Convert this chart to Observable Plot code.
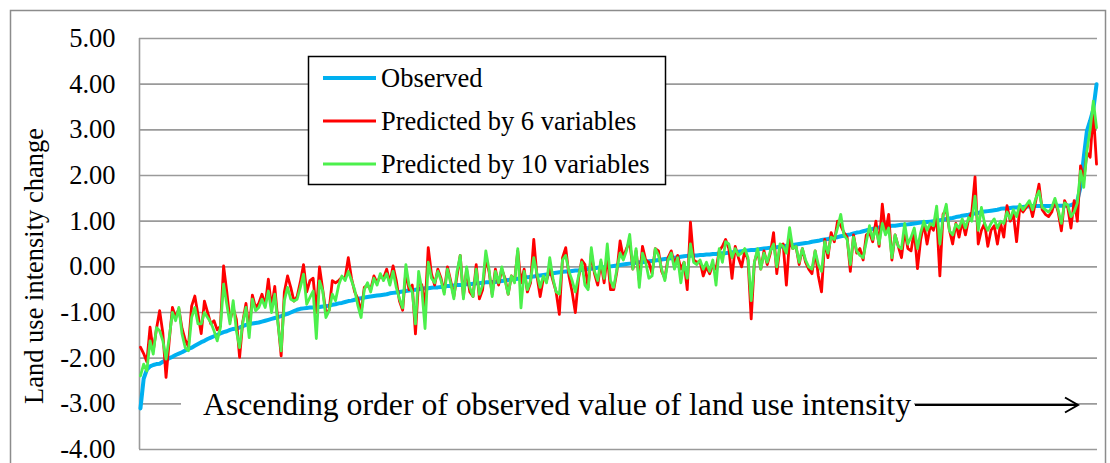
<!DOCTYPE html>
<html>
<head>
<meta charset="utf-8">
<script src="https://cdn.jsdelivr.net/npm/d3@7"></script>
<script src="https://cdn.jsdelivr.net/npm/@observablehq/plot@0.6"></script>
<style>
  html, body { margin: 0; padding: 0; background: #fff; }
  #chart svg { display: block; }
</style>
</head>
<body>
<div id="chart"></div>
<script>
// Land use intensity change: observed values sorted ascending, with the two model predictions
const observed = [
  -3.10,-2.45,-2.25,-2.18,-2.15,-2.13,-2.12,-2.08,-2.04,-2.00,-1.97,-1.93,-1.90,-1.87,-1.83,-1.80,-1.77,-1.73,-1.69,-1.65,
  -1.62,-1.58,-1.55,-1.52,-1.49,-1.46,-1.43,-1.41,-1.38,-1.36,-1.35,-1.33,-1.30,-1.27,-1.25,-1.24,-1.23,-1.22,-1.20,-1.18,
  -1.16,-1.14,-1.12,-1.10,-1.08,-1.05,-1.03,-1.00,-0.97,-0.94,-0.92,-0.91,-0.90,-0.89,-0.89,-0.88,-0.88,-0.87,-0.86,-0.85,
  -0.83,-0.82,-0.80,-0.79,-0.77,-0.75,-0.74,-0.72,-0.70,-0.69,-0.67,-0.66,-0.65,-0.64,-0.63,-0.62,-0.61,-0.60,-0.58,-0.57,
  -0.56,-0.55,-0.54,-0.53,-0.52,-0.51,-0.50,-0.49,-0.48,-0.47,-0.47,-0.46,-0.45,-0.45,-0.44,-0.43,-0.42,-0.42,-0.41,-0.40,
  -0.40,-0.39,-0.38,-0.38,-0.37,-0.36,-0.36,-0.35,-0.34,-0.34,-0.33,-0.33,-0.32,-0.31,-0.30,-0.29,-0.28,-0.27,-0.26,-0.25,
  -0.24,-0.23,-0.22,-0.21,-0.20,-0.19,-0.18,-0.17,-0.16,-0.14,-0.13,-0.12,-0.11,-0.10,-0.10,-0.09,-0.08,-0.08,-0.07,-0.06,
  -0.05,-0.04,-0.03,-0.02,-0.01,-0.01,0.00,0.01,0.02,0.03,0.04,0.05,0.06,0.07,0.08,0.09,0.10,0.10,0.11,0.12,
  0.13,0.14,0.15,0.16,0.17,0.18,0.19,0.20,0.21,0.22,0.23,0.24,0.24,0.25,0.25,0.26,0.26,0.27,0.27,0.28,
  0.28,0.29,0.30,0.30,0.31,0.32,0.32,0.33,0.34,0.35,0.36,0.37,0.37,0.38,0.39,0.40,0.41,0.42,0.42,0.43,
  0.44,0.45,0.46,0.47,0.48,0.49,0.50,0.51,0.52,0.53,0.55,0.56,0.57,0.59,0.60,0.61,0.63,0.64,0.65,0.67,
  0.68,0.70,0.71,0.73,0.75,0.76,0.78,0.80,0.81,0.83,0.85,0.86,0.87,0.88,0.89,0.90,0.90,0.91,0.92,0.92,
  0.93,0.94,0.95,0.96,0.97,0.98,0.98,0.99,1.00,1.01,1.02,1.03,1.05,1.06,1.07,1.09,1.10,1.12,1.13,1.14,
  1.16,1.17,1.18,1.20,1.21,1.22,1.23,1.24,1.25,1.27,1.28,1.28,1.29,1.30,1.30,1.31,1.31,1.32,1.32,1.33,
  1.33,1.33,1.33,1.33,1.33,1.33,1.33,1.34,1.34,1.34,1.34,1.35,1.38,1.45,1.75,2.40,2.98,3.20,3.45,4.00
];

const predicted6 = [
  -1.76,-1.90,-2.08,-1.32,-1.84,-1.36,-0.96,-1.45,-2.42,-1.62,-0.89,-1.11,-0.92,-1.35,-1.60,-1.75,-0.86,-0.64,-1.05,-1.46,
  -0.75,-1.00,-1.25,-1.18,-1.38,-1.30,0.02,-0.55,-1.18,-0.90,-1.15,-1.98,-1.20,-0.80,-1.40,-0.62,-0.90,-0.80,-0.60,-0.85,
  -0.27,-0.90,-0.43,-1.20,-1.95,-0.55,-0.20,-0.45,-0.75,-0.65,-0.33,0.05,-0.55,-0.30,-0.25,-1.00,0.00,-0.50,-1.00,-0.95,
  -0.30,-0.35,-0.30,-0.23,-0.25,0.20,-0.25,-0.55,-0.70,-1.00,-0.45,-0.40,-0.50,-0.20,-0.35,-0.20,-0.25,-0.05,-0.35,0.02,
  -0.30,-0.75,-0.95,-0.10,-0.50,-0.40,-1.47,-0.30,-0.40,-0.90,0.42,-0.15,-0.40,-0.05,-0.25,-0.55,0.00,-0.30,-0.65,-0.20,
  0.25,-0.65,-0.05,-0.55,-0.65,0.05,-0.70,-0.50,0.20,-0.10,-0.60,-0.05,-0.40,-0.05,-0.25,-0.60,-0.20,-0.30,0.35,-0.35,
  -0.05,-0.55,-0.35,0.60,-0.20,-0.65,-0.25,-0.30,-0.05,-0.30,-0.55,-1.04,0.20,0.42,-0.20,-0.55,-1.00,-0.25,0.15,0.05,
  -0.45,0.30,-0.15,-0.40,0.10,-0.35,0.25,-0.50,-0.50,-0.10,0.57,0.20,0.40,0.55,-0.05,0.35,-0.30,0.45,0.15,0.10,
  -0.15,0.40,0.35,-0.10,-0.25,0.20,0.35,0.05,0.25,-0.05,0.10,-0.50,0.98,0.15,0.10,0.12,-0.20,0.00,-0.15,0.05,
  -0.05,0.35,0.45,0.60,0.40,-0.25,0.45,0.20,0.00,0.35,0.15,-1.14,0.10,0.35,-0.05,0.35,0.05,0.30,0.75,-0.15,
  0.45,0.50,-0.40,0.60,0.40,0.45,0.05,0.40,0.10,-0.05,-0.15,0.35,-0.20,-0.55,0.60,0.20,0.75,0.55,1.00,0.90,
  0.75,0.65,-0.10,0.70,0.30,0.40,0.15,0.70,0.75,0.55,1.00,0.45,1.37,0.75,1.15,0.15,0.70,0.45,0.20,0.80,
  0.40,0.35,0.80,-0.04,0.60,0.95,0.50,0.90,0.80,1.10,-0.20,1.15,1.25,0.80,0.50,0.95,0.65,1.00,0.70,1.05,
  1.20,1.97,0.50,0.80,0.95,0.45,0.80,0.90,0.50,0.95,0.65,1.34,1.00,1.15,0.55,1.30,1.20,1.30,1.40,1.10,
  1.45,1.81,1.25,1.15,1.10,1.20,1.45,1.20,0.79,1.45,1.30,0.85,1.45,1.00,2.21,1.90,2.50,2.40,3.40,2.25
];

const predicted10 = [
  -2.39,-2.13,-2.28,-1.62,-1.91,-1.33,-1.40,-1.62,-2.02,-1.55,-1.00,-1.18,-0.89,-1.47,-1.77,-1.84,-1.11,-0.89,-1.25,-1.25,
  -1.00,-1.11,-1.22,-1.40,-1.62,-1.33,-0.38,-0.82,-1.25,-0.74,-1.40,-1.77,-1.22,-0.89,-1.55,-0.71,-0.96,-0.89,-0.71,-0.89,
  -0.53,-1.00,-0.60,-1.25,-1.84,-0.74,-0.45,-0.71,-0.75,-0.71,-0.45,-0.16,-0.82,-0.67,-0.53,-1.57,-0.31,-0.53,-1.11,-0.96,
  -0.60,-0.74,-0.40,-0.20,-0.30,-0.10,-0.30,-0.50,-0.85,-1.11,-0.50,-0.35,-0.55,-0.25,-0.40,-0.15,-0.30,-0.15,-0.40,-0.10,
  -0.45,-0.70,-0.90,0.05,-0.40,-0.55,-1.25,-0.10,-0.50,-1.35,0.10,-0.25,-0.35,-0.10,-0.30,-0.60,-0.05,-0.35,-0.70,-0.10,
  0.25,-0.70,0.00,-0.45,-0.65,-0.05,-0.60,-0.40,0.35,-0.05,-0.65,-0.10,-0.35,0.00,-0.30,-0.60,-0.20,-0.35,0.40,-0.90,
  -0.10,-0.50,-0.30,0.20,-0.15,-0.45,-0.20,-0.35,0.20,-0.25,-0.55,-0.60,0.15,0.25,-0.10,-0.30,-0.55,-0.20,0.10,-0.40,
  -0.50,0.42,-0.10,-0.30,0.15,-0.25,0.50,-0.30,-0.45,-0.05,0.30,0.15,0.35,0.71,-0.05,0.40,-0.45,0.30,0.10,-0.25,
  -0.20,0.40,0.25,-0.05,-0.30,0.15,0.30,-0.05,0.20,-0.35,0.10,-0.25,0.50,0.10,0.05,0.15,-0.05,0.10,-0.10,0.15,
  -0.40,0.40,0.10,0.55,0.50,0.20,0.40,0.25,0.30,0.40,0.20,-0.74,0.10,0.40,-0.05,0.30,0.10,0.35,0.50,0.00,
  0.50,0.45,0.30,0.86,0.40,0.45,0.10,0.40,0.15,0.00,-0.05,0.35,0.05,-0.10,0.55,0.30,0.65,0.60,0.85,1.15,
  0.70,0.60,0.05,0.65,0.35,0.25,0.20,0.55,0.90,0.60,0.85,0.50,0.95,0.70,0.85,0.20,0.70,0.45,0.40,0.95,
  0.50,0.65,0.85,0.40,0.75,1.00,0.80,0.95,0.90,1.33,0.50,1.10,1.37,0.79,0.70,0.93,0.85,1.05,0.85,1.08,
  1.00,1.55,0.80,1.30,0.95,0.80,0.95,1.05,0.85,1.00,0.95,1.20,1.05,1.25,1.10,1.37,1.25,1.35,1.45,1.25,
  1.50,1.66,1.30,1.25,1.20,1.30,1.50,1.25,0.95,1.40,1.35,1.10,1.20,1.40,2.10,1.74,2.54,3.00,3.63,3.05
];

const yTicks = [-4, -3, -2, -1, 0, 1, 2, 3, 4, 5];

const seriesNames = ["Observed", "Predicted by 6 variables", "Predicted by 10 variables"];
const seriesColors = ["#00b0f0", "#ff0000", "#4cf04c"];
const seriesWidths = [4, 2.8, 2.8];

const yTitle = "Land use intensity change";
const xNote = "Ascending order of observed value of land use intensity";

const rows = observed.map((v, i) => ({
  i,
  observed: v,
  p6: predicted6[i],
  p10: predicted10[i]
}));

const serif = "'Liberation Serif', 'Times New Roman', Times, serif";
const W = 1110, H = 463;
const n = observed.length;

const chart = Plot.plot({
  width: W,
  height: H,
  marginLeft: 139,
  marginRight: 13,
  marginTop: 38,
  marginBottom: 14,
  style: { fontSize: "26px", color: "#000", background: "#fff" },
  x: { domain: [-0.3, n - 0.7], axis: null },
  y: { domain: [-4, 5], axis: null },
  marks: [
    Plot.ruleY(yTicks, { stroke: "#9a9a9a", strokeWidth: 1.6 }),
    Plot.ruleX([-0.3], { stroke: "#9a9a9a", strokeWidth: 1.6 }),
    Plot.axisY(yTicks, {
      anchor: "left",
      tickSize: 0,
      tickPadding: 24,
      tickFormat: d => d.toFixed(2),
      label: null,
      fontSize: 26.5,
      fill: "#000"
    }),
    Plot.lineY(rows, { x: "i", y: "observed", stroke: seriesColors[0], strokeWidth: seriesWidths[0] }),
    Plot.lineY(rows, { x: "i", y: "p6", stroke: seriesColors[1], strokeWidth: seriesWidths[1] }),
    Plot.lineY(rows, { x: "i", y: "p10", stroke: seriesColors[2], strokeWidth: seriesWidths[2] })
  ]
});

document.getElementById("chart").appendChild(chart);

const svg = d3.select(chart);

// outer chart border
svg.append("rect")
  .attr("x", 10.5).attr("y", 10.5)
  .attr("width", 1095).attr("height", 480)
  .attr("fill", "none").attr("stroke", "#8c8c8c").attr("stroke-width", 1.5);

// vertical axis title
svg.append("text")
  .attr("transform", "translate(34,266) rotate(-90)")
  .attr("text-anchor", "middle")
  .attr("dominant-baseline", "central")
  .style("font-size", "26.5px").attr("fill", "#000")
  .text(yTitle);

// legend box
const lg = svg.append("g");
lg.append("rect")
  .attr("x", 308.5).attr("y", 56.5).attr("width", 357).attr("height", 128)
  .attr("fill", "#fff").attr("stroke", "#000").attr("stroke-width", 1.5);
seriesNames.forEach((name, k) => {
  const cy = 78 + k * 43;
  lg.append("line")
    .attr("x1", 323).attr("x2", 376).attr("y1", cy).attr("y2", cy)
    .attr("stroke", seriesColors[k]).attr("stroke-width", seriesWidths[k]);
  lg.append("text")
    .attr("x", 381).attr("y", cy + 9)
    .attr("text-anchor", "start")
    .style("font-size", "26.5px").attr("fill", "#000")
    .text(name);
});

// ordering note with arrow along the bottom of the plot
const nt = svg.append("g");
nt.append("rect")
  .attr("x", 181).attr("y", 388).attr("width", 733).attr("height", 34)
  .attr("fill", "#fff");
nt.append("text")
  .attr("x", 203).attr("y", 415)
  .attr("text-anchor", "start")
  .attr("textLength", 708).attr("lengthAdjust", "spacingAndGlyphs")
  .style("font-size", "32px").attr("fill", "#000")
  .text(xNote);
nt.append("line")
  .attr("x1", 915).attr("x2", 1077).attr("y1", 405).attr("y2", 405)
  .attr("stroke", "#000").attr("stroke-width", 2);
nt.append("polyline")
  .attr("points", "1065,397.5 1078,405 1065,412.5")
  .attr("fill", "none").attr("stroke", "#000").attr("stroke-width", 2);

// every label in the figure is set in a Times-style serif face
svg.selectAll("text").style("font-family", serif);
</script>
</body>
</html>
